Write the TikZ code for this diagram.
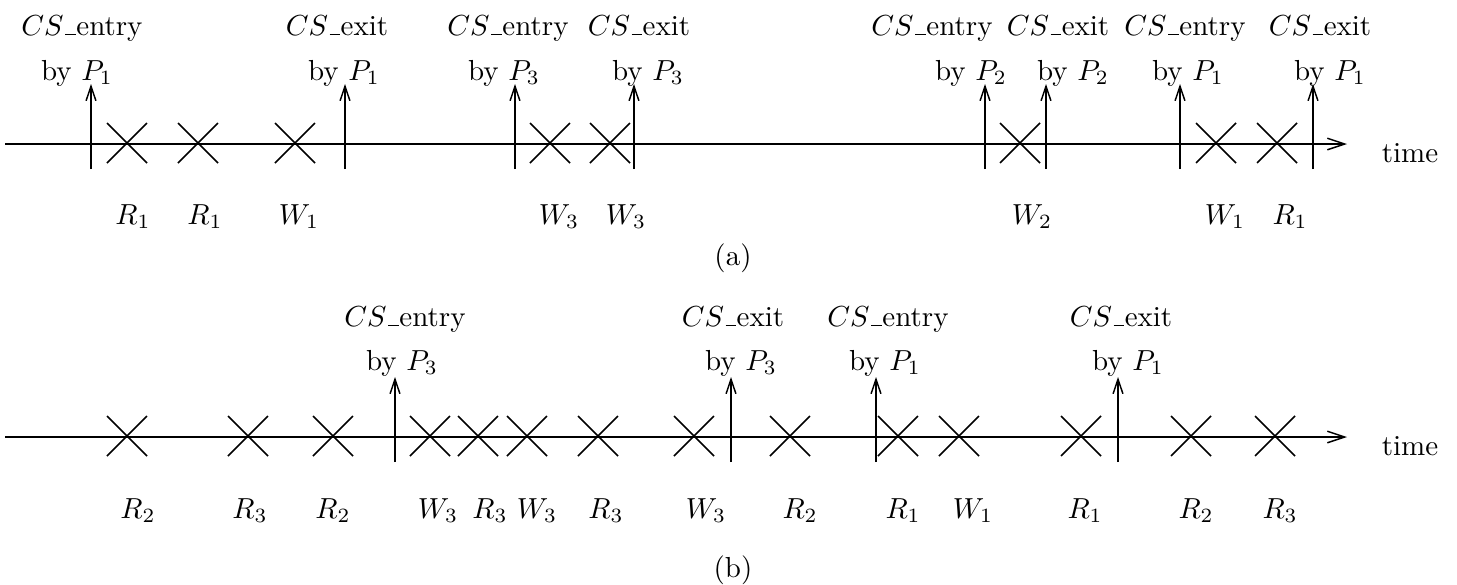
\documentclass[tikz,border=0pt]{standalone}
\usetikzlibrary{shapes.misc,arrows.meta}
\newcommand\myusc{\leavevmode\kern.06em\vbox{\hrule width .36em height .4pt}\kern.02em}
\begin{document}
\begin{tikzpicture}[x=0.345pt,y=-0.345pt,
  timeline/.style={line width=0.5pt,-{Straight Barb[length=6pt,width=4pt,line width=0.5pt]}},
  evarrow/.style={line width=0.5pt,-{Straight Barb[length=5pt,width=3.4pt,line width=0.5pt]}},
  mk/.style={cross out,draw,line width=0.5pt,minimum size=13.3pt,inner sep=0pt},
  txt/.style={anchor=base,inner sep=0pt}]
\useasboundingbox (0,0) rectangle (1457,584);
% ---------- (a) ----------
\coordinate (a0) at (5,144);
\coordinate (a1) at (1347,144);
\draw[timeline] (a0) -- (a1);
\node[txt] (atime) at (1410,162) {time};
\foreach \n/\x/\w/\xa/\p/\xb in {1/91/entry/82/1/77, 2/345/exit/337/1/344,
    3/515/entry/508/3/504, 4/634/exit/639/3/648, 5/985/entry/932/2/971,
    6/1046/exit/1058/2/1073, 7/1180/entry/1185/1/1188, 8/1313/exit/1320/1/1330}
{
  \coordinate (ta\n b) at (\x,169);
  \coordinate (ta\n t) at (\x,84);
  \draw[evarrow] (ta\n b) -- (ta\n t);
  \node[txt] (ta\n l1) at (\xa,35) {$CS$\myusc\w};
  \node[txt] (ta\n l2) at (\xb,80) {by $P_{\p}$};
}
\foreach \n/\x in {1/127,2/198,3/295,4/550,5/610,6/1020,7/1216,8/1277}
  \node[mk] (am\n) at (\x,143) {};
\foreach \n/\x/\s in {1/133/R_1,2/205/R_1,3/299/W_1,4/559/W_3,5/626/W_3,
    6/1032/W_2,7/1225/W_1,8/1290/R_1}
  \node[txt] (al\n) at (\x,224) {$\s$};
\node[txt] (acap) at (733,265) {(a)};
% ---------- (b) ----------
\coordinate (b0) at (5,437);
\coordinate (b1) at (1347,437);
\draw[timeline] (b0) -- (b1);
\node[txt] (btime) at (1410,455) {time};
\foreach \n/\x/\w/\xa/\p/\xb in {1/395/entry/405/3/402, 2/731/exit/733/3/741,
    3/876/entry/888/1/885, 4/1118/exit/1121/1/1128}
{
  \coordinate (tb\n b) at (\x,462);
  \coordinate (tb\n t) at (\x,377);
  \draw[evarrow] (tb\n b) -- (tb\n t);
  \node[txt] (tb\n l1) at (\xa,326) {$CS$\myusc\w};
  \node[txt] (tb\n l2) at (\xb,370) {by $P_{\p}$};
}
\foreach \n/\x in {1/127,2/248,3/333,4/430,5/478,6/527,7/598,8/694,9/790,
    10/898,11/959,12/1081,13/1191,14/1275}
  \node[mk] (bm\n) at (\x,436) {};
\foreach \n/\x/\s in {1/138/R_2,2/250/R_3,3/333/R_2,4/438/W_3,5/490/R_3,
    6/537/W_3,7/606/R_3,8/706/W_3,9/800/R_2,10/903/R_1,11/973/W_1,
    12/1085/R_1,13/1196/R_2,14/1280/R_3}
  \node[txt] (bl\n) at (\x,518) {$\s$};
\node[txt] (bcap) at (733,577) {(b)};
\end{tikzpicture}
\end{document}
